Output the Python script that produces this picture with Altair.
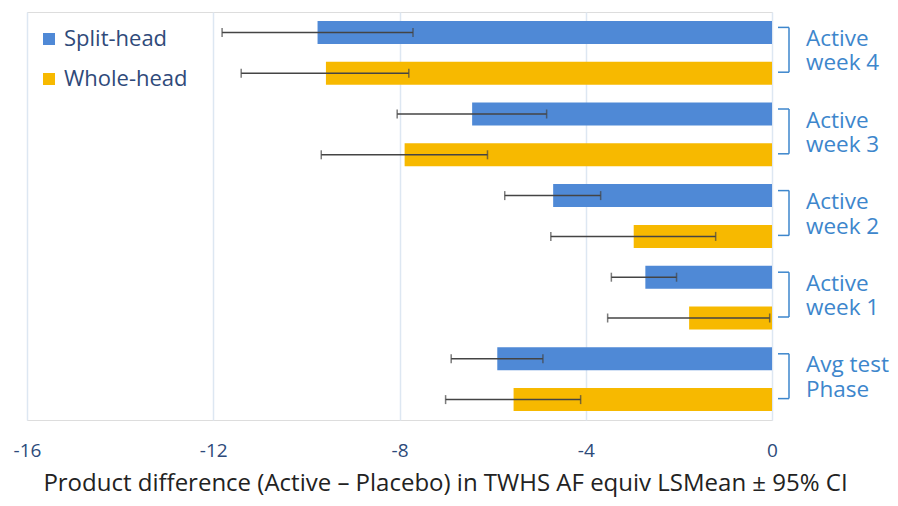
import altair as alt
import pandas as pd

groups = ["Active week 4", "Active week 3", "Active week 2", "Active week 1", "Avg test Phase"]
label_line1 = ["Active", "Active", "Active", "Active", "Avg test"]
label_line2 = ["week 4", "week 3", "week 2", "week 1", "Phase"]
series = ["Split-head", "Whole-head"]
split_mean = [-9.76, -6.44, -4.70, -2.72, -5.90]
split_lo = [-11.81, -8.05, -5.74, -3.45, -6.89]
split_hi = [-7.71, -4.84, -3.68, -2.05, -4.92]
whole_mean = [-9.58, -7.89, -2.97, -1.78, -5.55]
whole_lo = [-11.40, -9.68, -4.75, -3.53, -7.01]
whole_hi = [-7.80, -6.11, -1.21, -0.05, -4.11]
x_ticks = [-16, -12, -8, -4, 0]

rows = []
order = []
for i, g in enumerate(groups):
    for s, m, lo, hi in [("Split-head", split_mean[i], split_lo[i], split_hi[i]),
                         ("Whole-head", whole_mean[i], whole_lo[i], whole_hi[i])]:
        key = f"{i}|{s}"
        order.append(key)
        rows.append({"key": key, "group": g, "series": s, "mean": m, "lo": lo, "hi": hi})
df = pd.DataFrame(rows)

grp = pd.DataFrame({
    "group": groups,
    "line1": label_line1,
    "line2": label_line2,
    "top": [f"{i}|Split-head" for i in range(len(groups))],
    "bottom": [f"{i}|Whole-head" for i in range(len(groups))],
})

SANS = "Open Sans, Lato, sans-serif"
BLUE_TXT = "#3d86cc"

yscale = alt.Scale(domain=order, paddingInner=0, paddingOuter=0)
ybase = alt.Y("key:N", scale=yscale, axis=None)

bars = alt.Chart(df).mark_bar(size=23).encode(
    x=alt.X("mean:Q",
            scale=alt.Scale(domain=[-16, 0], nice=False),
            axis=alt.Axis(values=x_ticks, domain=False, ticks=False, grid=True,
                          gridColor="#dde7f2", gridWidth=1.5,
                          labelExpr="'' + datum.value",
                          labelFont=SANS, labelFontSize=19, labelColor="#2d4a7a",
                          labelPadding=21, labelFlush=False,
                          title="Product difference (Active \u2013 Placebo) in TWHS AF equiv LSMean \u00b1 95% CI",
                          titleFont=SANS, titleFontSize=24, titleFontWeight="normal",
                          titleColor="#222222", titlePadding=11,
                          titleAnchor="middle", titleX=418, titleAlign="center")),
    x2=alt.datum(0),
    y=ybase,
    color=alt.Color("series:N",
                    scale=alt.Scale(domain=series, range=["#4f89d6", "#f7b900"]),
                    legend=alt.Legend(title=None, orient="none", legendX=11, legendY=16,
                                      symbolType="square", symbolSize=144, symbolStrokeWidth=0,
                                      labelFont=SANS, labelFontSize=22, labelColor="#2f4a7a",
                                      labelOffset=4, rowPadding=18, padding=0)),
)

err = alt.Chart(df).mark_rule(color="#444444", strokeWidth=1.5).encode(
    x=alt.X("lo:Q"), x2="hi:Q", y=ybase)
cap_lo = alt.Chart(df).mark_tick(color="#444444", thickness=1.5, size=9).encode(
    x="lo:Q", y=ybase)
cap_hi = alt.Chart(df).mark_tick(color="#444444", thickness=1.5, size=9).encode(
    x="hi:Q", y=ybase)

ytop = alt.Y("top:N", scale=yscale, axis=None)
ybot = alt.Y("bottom:N", scale=yscale, axis=None)

br_v = alt.Chart(grp).mark_rule(color=BLUE_TXT, strokeWidth=1.5, xOffset=17, x2Offset=17,
                                yOffset=-5, y2Offset=-1).encode(
    x=alt.datum(0), y=ytop, y2="bottom:N")
br_t = alt.Chart(grp).mark_rule(color=BLUE_TXT, strokeWidth=1.5, xOffset=6, x2Offset=17,
                                yOffset=-5).encode(
    x=alt.datum(0), x2=alt.datum(0), y=ytop)
br_b = alt.Chart(grp).mark_rule(color=BLUE_TXT, strokeWidth=1.5, xOffset=6, x2Offset=17,
                                yOffset=-1).encode(
    x=alt.datum(0), x2=alt.datum(0), y=ybot)

lab1 = alt.Chart(grp).mark_text(align="left", baseline="alphabetic", dx=34, dy=13.5,
                                font=SANS, fontSize=22.5, color=BLUE_TXT).encode(
    x=alt.datum(0), y=ytop, text="line1:N")
lab2 = alt.Chart(grp).mark_text(align="left", baseline="alphabetic", dx=34, dy=38,
                                font=SANS, fontSize=22.5, color=BLUE_TXT).encode(
    x=alt.datum(0), y=ytop, text="line2:N")

chart = alt.layer(bars, err, cap_lo, cap_hi, br_v, br_t, br_b, lab1, lab2).properties(
    width=745, height=408,
    autosize=alt.AutoSizeParams(type="none"),
    padding={"left": 19, "top": 4, "right": 118, "bottom": 78},
).configure_view(strokeWidth=0).configure(background="white")

chart.save("out.html", embed_options={"renderer": "svg", "actions": False})
